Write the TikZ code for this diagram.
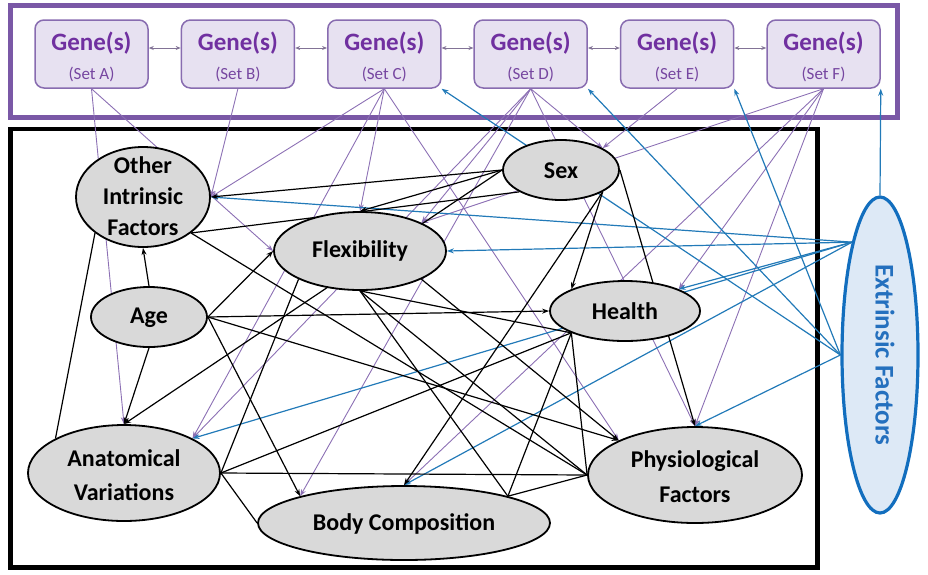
\documentclass[tikz,border=0pt]{standalone}
\usepackage{fontspec}
\setmainfont{Carlito}
\usetikzlibrary{shapes.geometric,arrows.meta}
\definecolor{framepurple}{RGB}{122,88,166}
\definecolor{genefill}{RGB}{231,225,241}
\definecolor{genebd}{RGB}{136,108,176}
\definecolor{genetxt}{RGB}{112,48,160}
\definecolor{settxt}{RGB}{118,70,160}
\definecolor{pedge}{RGB}{140,112,180}
\definecolor{bedge}{RGB}{34,122,184}
\definecolor{extbd}{RGB}{18,110,190}
\definecolor{extfill}{RGB}{221,233,246}
\definecolor{exttxt}{RGB}{36,112,190}
\definecolor{ellfill}{RGB}{217,217,217}
\definecolor{linkgray}{RGB}{130,115,150}
\pgfdeclarelayer{bg}
\pgfdeclarelayer{edges}
\pgfsetlayers{bg,edges,main}
\begin{document}
\begin{tikzpicture}[x=1pt,y=-1pt,
  ell/.style={ellipse, draw=black, line width=1.8pt, fill=ellfill, inner sep=0pt},
  lbl/.style={font=\bfseries\fontsize{24}{31}\selectfont, align=center, inner sep=0pt, text=black},
  gbox/.style={draw=genebd, fill=genefill, line width=1.5pt, rounded corners=9pt, minimum width=113pt, minimum height=68pt, inner sep=0pt},
  gtxt/.style={font=\bfseries\fontsize{25}{30}\selectfont, text=genetxt, inner sep=0pt, anchor=base},
  stxt/.style={font=\fontsize{17}{20}\selectfont, text=settxt, inner sep=0pt, anchor=base},
  pe/.style={draw=pedge, line width=0.9pt, -{Stealth[length=7pt,width=5pt]}},
  be/.style={draw=bedge, line width=1.2pt, -{Stealth[length=7pt,width=5pt]}},
  ke/.style={draw=black, line width=1.2pt, -{Stealth[length=7pt,width=5pt]}},
  kl/.style={draw=black, line width=1.2pt},
  link/.style={draw=linkgray, line width=1pt, {Stealth[length=5pt,width=4pt]}-{Stealth[length=5pt,width=4pt]}}
]
\useasboundingbox (0,0) rectangle (928,574);

% frames
\begin{pgfonlayer}{bg}
\draw[framepurple, line width=5pt] (10.5,5.5) rectangle (897,117);
\draw[black, line width=4.5pt] (10.5,129) rectangle (817.5,567.5);
\end{pgfonlayer}

% gene boxes
\foreach \n/\x/\s in {ga/91.5/A, gb/237.9/B, gc/384.3/C, gd/530.7/D, ge/677.1/E, gf/823.5/F}{
  \node[gbox] (\n) at (\x,54) {};
  \node[gtxt] (\n-t) at (\x,50) {Gene(s)};
  \node[stxt] (\n-s) at (\x,79) {(Set \s)};
}
\foreach \a/\b in {ga/gb, gb/gc, gc/gd, gd/ge, ge/gf}{
  \draw[link] ([yshift=6pt]\a.east) -- ([yshift=6pt]\b.west);
}

% intrinsic ellipses
\node[ell, minimum width=134pt, minimum height=100pt] (oif) at (143,197) {};
\node[lbl] (oif-t) at (143,196) {Other\\Intrinsic\\Factors};
\node[ell, minimum width=172pt, minimum height=78pt] (flex) at (360,251) {};
\node[lbl] (flex-t) at (360,251) {Flexibility};
\node[ell, minimum width=116pt, minimum height=60pt] (age) at (149,317) {};
\node[lbl] (age-t) at (149,318) {Age};
\node[ell, minimum width=116pt, minimum height=60pt] (sex) at (561,170) {};
\node[lbl] (sex-t) at (561,171) {Sex};
\node[ell, minimum width=150pt, minimum height=60pt] (health) at (625,311) {};
\node[lbl] (health-t) at (625,311) {Health};
\node[ell, minimum width=192pt, minimum height=96pt] (anat) at (124,473) {};
\node[lbl, font=\bfseries\fontsize{24}{34}\selectfont] (anat-t) at (124,475) {Anatomical\\Variations};
\node[ell, minimum width=292pt, minimum height=74pt] (body) at (404,523) {};
\node[lbl] (body-t) at (404,524) {Body Composition};
\node[ell, minimum width=214pt, minimum height=96pt] (phys) at (695,475) {};
\node[lbl, font=\bfseries\fontsize{24}{35}\selectfont] (phys-t) at (695,477) {Physiological\\Factors};

% extrinsic
\node[ellipse, draw=extbd, line width=3.2pt, fill=extfill, minimum width=76pt, minimum height=316pt, inner sep=0pt] (ext) at (880,355) {};
\node[rotate=-90, font=\bfseries\fontsize{27}{30}\selectfont, text=exttxt, inner sep=0pt] (ext-t) at (885,355) {Extrinsic Factors};

\begin{pgfonlayer}{edges}
% gene (purple) edges
\draw[pe] (ga.south) -- (anat.north);
\draw[pe] (ga.south) -- (flex.west);
\draw[pe] (gb.south) -- (oif.east);
\draw[pe] (gc.south) -- (oif.east);
\draw[pe] (gc.south) -- (flex.north);
\draw[pe] (gc.south) -- (anat.north east);
\draw[pe] (gc.south) -- (phys.north west);
\draw[pe] (gd.south) -- (flex.north east);
\draw[pe] (gd.south) -- (anat.north east);
\draw[pe] (gd.south) -- (body.north west);
\draw[pe] (gd.south) -- (sex.north east);
\draw[pe] (gd.south) -- (phys.north);
\draw[pe] (ge.south) -- (sex.north east);
\draw[pe] (gf.south) -- (flex.north east);
\draw[pe] (gf.south) -- (health.north east);
\draw[pe] (gf.south) -- (body.north);
\draw[pe] (gf.south) -- (phys.north);

% extrinsic (blue) edges
\draw[be] (ext.north west) -- (oif.east);
\draw[be] (ext.north west) -- (flex.east);
\draw[be] (ext.north west) -- (health.north east);
\draw[be] (ext.north west) -- (body.north);
\draw[be] (ext.north west) -- (anat.north east);
\draw[be] (ext.west) -- (phys.north);
\draw[be] (ext.west) -- (gc.south east);
\draw[be] (ext.west) -- (gd.south east);
\draw[be] (ext.west) -- (ge.south east);
\draw[be] (ext.north) -- (gf.south east);

% intrinsic (black) edges
\draw[ke] (age.north) -- (oif.south);
\draw[ke] (age.south) -- (anat.north);
\draw[ke] (age.east) -- (flex.west);
\draw[ke] (age.east) -- (health.west);
\draw[ke] (age.east) -- (body.north west);
\draw[ke] (age.east) -- (phys.north west);
\draw[ke] (sex.west) -- (oif.east);
\draw[ke] (sex.west) -- (flex.north);
\draw[ke] (sex.west) -- (anat.north);
\draw[ke] (sex.south east) -- (health.north west);
\draw[ke] (sex.south east) -- (body.north);
\draw[ke] (sex.east) -- (phys.north);
\draw[ke] (flex.south east) -- (phys.north west);
\draw[kl] (oif.south east) -- (sex.south west);
\draw[kl] (oif.south east) -- (phys.west);
\draw[kl] (oif.south west) -- (anat.north west);
\draw[kl] (flex.south west) -- (anat.east);
\draw[kl] (flex.south) -- (body.north east);
\draw[kl] (flex.south) -- (phys.west);
\draw[kl] (flex.south) -- (health.south west);
\draw[kl] (anat.east) -- (health.south west);
\draw[kl] (anat.east) -- (phys.west);
\draw[kl] (anat.east) -- (body.west);
\draw[kl] (health.south west) -- (body.north east);
\draw[kl] (health.south west) -- (phys.west);
\draw[kl] (body.north east) -- (phys.west);
\end{pgfonlayer}
\end{tikzpicture}
\end{document}
